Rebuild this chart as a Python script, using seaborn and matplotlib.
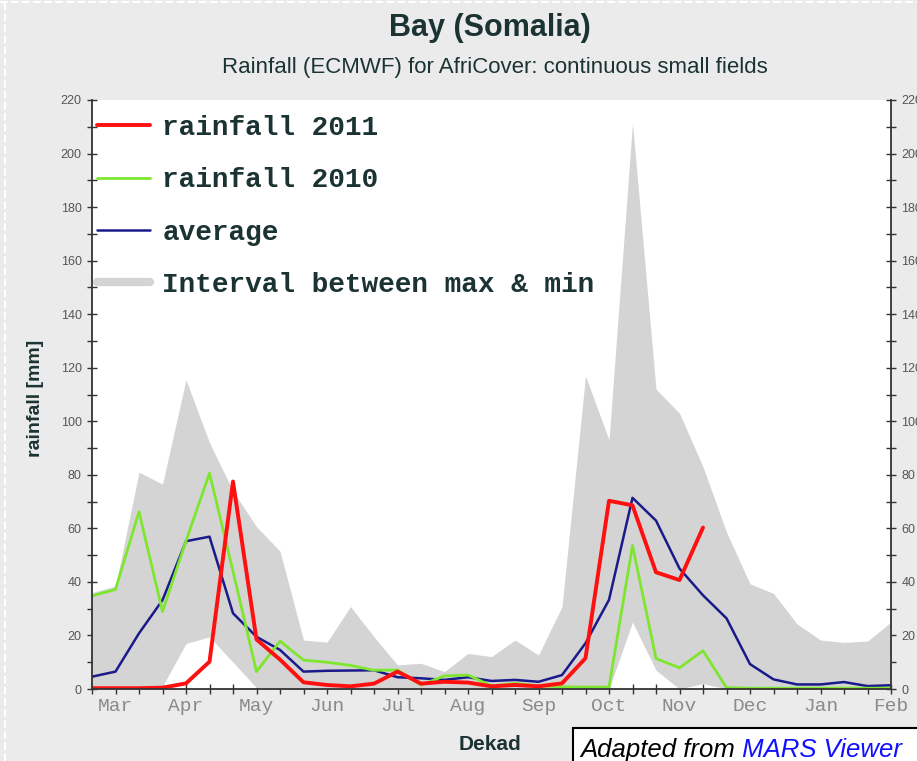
import matplotlib.pyplot as plt
import seaborn as sns
from matplotlib.lines import Line2D
from matplotlib.patches import Rectangle

# dekads from 1st dekad of March to 2nd dekad of Feb
dekads = list(range(35))
month_names = ["Mar", "Apr", "May", "Jun", "Jul", "Aug", "Sep", "Oct", "Nov", "Dec", "Jan", "Feb"]

rain_2011 = [0.3, 0.3, 0.3, 0.5, 2.1, 10.2, 77.5, 18.5, 11, 2.5, 1.5, 1, 2, 6.5, 2, 2.7, 2.4, 1,
             1.5, 1, 2.1, 11.5, 70.3, 68.6, 43.6, 40.7, 60.3]
rain_2010 = [34.8, 37.2, 66.2, 28.9, 55.3, 80.6, 44, 6.5, 17.9, 10.8, 10, 8.8, 7, 7.1, 1.5, 4.9, 5.2,
             1.2, 2.1, 1.2, 0.8, 0.7, 0.7, 53.6, 11.4, 7.9, 14.3, 0.5, 0.3, 0.3, 0.3, 0.3, 0.3, 0.3, 0.3]
average = [4.6, 6.5, 20.8, 33.2, 55.2, 56.9, 28.3, 19.5, 14.6, 6.5, 6.8, 6.9, 7, 4.4, 4, 3.4, 4.4,
           3, 3.4, 2.7, 5.2, 17.1, 33.3, 71.4, 62.9, 45, 35, 26.4, 9.3, 3.6, 1.7, 1.7, 2.6, 1.1, 1.4]
interval_max = [36, 38.5, 81, 76.5, 115.5, 92, 74, 60.6, 51.5, 18.3, 17.5, 30.8, 19.5, 9, 9.6, 6.5,
                13.3, 12.1, 18.3, 12.7, 30.8, 117, 93, 211.4, 112, 103, 83, 58.6, 39.3, 35.7, 24.3,
                18.3, 17.4, 17.9, 25]
interval_min = [0, 0, 0, 1, 17, 19.5, 10, 0.5, 0, 0, 0, 0, 0, 0, 0, 0, 0, 0, 0, 0, 0, 0, 0, 25, 7,
                0, 2, 0, 0, 0, 0, 0, 0, 0, 0]

sns.set_style("ticks")
plt.rcParams['font.family'] = ['Liberation Sans', 'DejaVu Sans']

dark = '#1c3333'
fig = plt.figure(figsize=(9.17, 7.61), dpi=100, facecolor='#ebebeb')
ax = fig.add_axes([92 / 917, 72 / 761, 799 / 917, 589 / 761])
ax.set_facecolor('white')

ax.fill_between(dekads, interval_min, interval_max, color='#d4d4d4', lw=0)
sns.lineplot(x=dekads, y=average, color='#1a1a8a', lw=1.8, ax=ax)
sns.lineplot(x=dekads, y=rain_2010, color='#7ee62e', lw=2.0, ax=ax)
sns.lineplot(x=dekads[:len(rain_2011)], y=rain_2011, color='#ff1010', lw=2.8, ax=ax)

ax.set_xlim(0, 34)
ax.set_ylim(0, 220)
ax.set_xticks(dekads)
ax.set_xticklabels([month_names[i // 3] if i % 3 == 1 else '' for i in dekads])
ax.set_yticks(range(0, 221, 20))
ax.set_yticks(range(10, 220, 20), minor=True)
ax.tick_params(axis='y', which='both', direction='inout', length=7, width=1, color='#333333',
               left=True, right=True, labelleft=True, labelright=True,
               labelsize=9, labelcolor='#555555', pad=4)
ax.tick_params(axis='x', direction='inout', length=7, width=1, color='#333333',
               labelsize=14, labelcolor='#8a8a8a', pad=3)
for lab in ax.get_xticklabels():
    lab.set_fontfamily('Liberation Mono')
ax.set_xlabel('')
ax.set_ylabel('')

ax.spines['top'].set_visible(False)
for s in ['left', 'right', 'bottom']:
    ax.spines[s].set_color('#333333')
    ax.spines[s].set_linewidth(1.3)

handles = [Line2D([], [], color='#ff1010', lw=2.8),
           Line2D([], [], color='#7ee62e', lw=2.0),
           Line2D([], [], color='#1a1a8a', lw=1.8),
           Line2D([], [], color='#d4d4d4', lw=6)]
labels = ['rainfall 2011', 'rainfall 2010', 'average', 'Interval between max & min']
ax.legend(handles, labels, loc='upper left', bbox_to_anchor=(0.0, 1 - 10 / 589), frameon=False,
          prop={'family': 'Liberation Mono', 'weight': 'bold', 'size': 20}, labelcolor=dark,
          handlelength=1.9, handletextpad=0.45, labelspacing=0.95, borderaxespad=0.08,
          borderpad=0.1)

fig.text(490 / 917, 1 - 28 / 761, 'Bay (Somalia)', ha='center', va='center',
         fontsize=22, weight='bold', color=dark)
fig.text(495 / 917, 1 - 68 / 761, 'Rainfall (ECMWF) for AfriCover: continuous small fields',
         ha='center', va='center', fontsize=16, color=dark)
fig.text(35 / 917, 1 - 398 / 761, 'rainfall [mm]', rotation=90, ha='center', va='center',
         fontsize=14, weight='bold', color=dark)
fig.text(490 / 917, 1 - 745 / 761, 'Dekad', ha='center', va='center',
         fontsize=15, weight='bold', color=dark)

# white dashed border
fig.add_artist(Line2D([0, 1], [1 - 2 / 761] * 2, transform=fig.transFigure,
                      color='white', ls='--', lw=1.5))
fig.add_artist(Line2D([5 / 917] * 2, [0, 1], transform=fig.transFigure,
                      color='white', ls='--', lw=1.5))

# source box
fig.add_artist(Rectangle((573 / 917, -0.01), 0.5, 0.01 + 1 - 728 / 761, transform=fig.transFigure,
                         facecolor='white', edgecolor='black', lw=1.5))
t1 = fig.text(580 / 917, 1 - 757 / 761, 'Adapted from', ha='left', va='baseline',
              fontsize=18.5, style='italic', color='black')
fig.canvas.draw()
bb = t1.get_window_extent().transformed(fig.transFigure.inverted())
fig.text(bb.x1, 1 - 757 / 761, ' MARS Viewer', ha='left', va='baseline',
         fontsize=18.5, style='italic', color='#1010ff')

fig.savefig('out.png', dpi=100, facecolor=fig.get_facecolor())
